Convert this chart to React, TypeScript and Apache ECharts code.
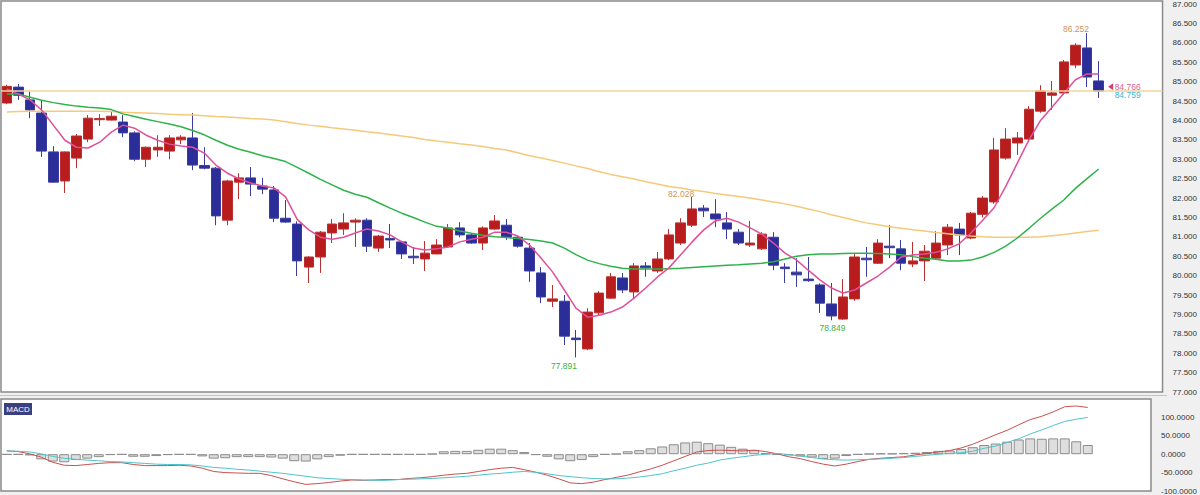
import { useEffect, useRef } from "react";
import * as echarts from "echarts";

// [open, close, low, high]
const candles: number[][] = [
  [84.45, 84.88, 84.42, 84.92], [84.86, 84.65, 84.53, 84.94], [84.53, 84.27, 84.06, 84.76], [84.19, 83.21, 83.06, 84.53],
  [83.19, 82.41, 82.40, 83.34], [82.44, 83.19, 82.13, 83.20], [83.03, 83.60, 82.77, 83.65], [83.52, 84.06, 83.44, 84.14],
  [84.02, 84.05, 83.86, 84.16], [84.01, 84.11, 84.00, 84.22], [83.96, 83.68, 83.57, 84.14], [83.68, 83.00, 82.95, 83.72],
  [83.00, 83.31, 82.80, 83.33], [83.24, 83.31, 83.06, 83.62], [83.21, 83.55, 83.00, 83.62], [83.50, 83.57, 83.39, 83.62],
  [83.55, 82.85, 82.72, 84.19], [82.84, 82.77, 82.74, 83.31], [82.77, 81.54, 81.30, 82.80], [81.43, 82.44, 81.30, 82.47],
  [82.41, 82.52, 81.97, 82.64], [82.52, 82.36, 82.05, 82.80], [82.31, 82.23, 82.10, 82.52], [82.21, 81.48, 81.38, 82.31],
  [81.48, 81.38, 81.36, 81.95], [81.33, 80.38, 79.99, 81.40], [80.22, 80.48, 79.81, 80.50], [80.48, 81.12, 80.07, 81.15],
  [81.10, 81.33, 80.84, 81.46], [81.20, 81.36, 81.05, 81.61], [81.38, 81.43, 80.74, 81.48], [81.43, 80.76, 80.61, 81.48],
  [80.71, 81.02, 80.61, 81.05], [80.96, 80.92, 80.71, 81.33], [80.87, 80.56, 80.43, 80.90], [80.50, 80.46, 80.30, 80.74],
  [80.43, 80.58, 80.12, 80.89], [80.56, 80.79, 80.55, 80.94], [80.74, 81.23, 80.72, 81.33], [81.23, 81.05, 80.99, 81.38],
  [81.05, 80.84, 80.82, 81.08], [80.84, 81.23, 80.66, 81.27], [81.20, 81.41, 81.18, 81.56], [81.30, 80.99, 80.92, 81.46],
  [80.99, 80.76, 80.72, 81.00], [80.71, 80.12, 79.84, 80.84], [80.07, 79.45, 79.29, 80.22], [79.34, 79.40, 79.19, 79.76],
  [79.34, 78.44, 78.21, 79.50], [78.39, 78.35, 77.891, 78.60], [78.11, 79.06, 78.08, 79.16], [79.04, 79.55, 78.98, 79.60],
  [79.42, 79.97, 79.40, 80.07], [79.94, 79.63, 79.55, 80.07], [79.58, 80.25, 79.40, 80.32], [80.25, 80.20, 79.97, 80.35],
  [80.12, 80.43, 80.07, 80.61], [80.43, 81.05, 80.40, 81.20], [80.84, 81.36, 80.79, 81.48], [81.30, 81.72, 81.25, 82.028],
  [81.74, 81.67, 81.51, 81.82], [81.59, 81.46, 81.25, 81.97], [81.36, 81.20, 80.94, 81.64], [81.12, 80.84, 80.79, 81.20],
  [80.79, 80.84, 80.74, 81.41], [80.69, 81.07, 80.66, 81.12], [80.99, 80.27, 80.14, 81.12], [80.22, 80.18, 79.81, 80.32],
  [80.09, 80.02, 79.71, 80.45], [79.91, 79.87, 79.84, 80.48], [79.76, 79.29, 79.04, 79.80], [79.27, 78.96, 78.849, 79.81],
  [78.88, 79.45, 78.86, 79.91], [79.40, 80.48, 79.35, 80.58], [80.45, 80.41, 79.97, 80.74], [80.32, 80.84, 80.30, 80.94],
  [80.76, 80.72, 80.45, 81.30], [80.69, 80.32, 80.14, 80.92], [80.30, 80.38, 80.22, 80.87], [80.38, 80.63, 79.86, 80.79],
  [80.45, 80.84, 80.43, 81.15], [80.79, 81.25, 80.53, 81.33], [81.20, 81.05, 80.53, 81.36], [80.97, 81.61, 80.94, 81.64],
  [81.58, 82.00, 81.50, 82.05], [81.90, 83.24, 81.85, 83.55], [83.03, 83.52, 82.99, 83.80], [83.42, 83.55, 83.11, 83.70],
  [83.52, 84.29, 83.44, 84.37], [84.24, 84.76, 84.20, 84.91], [84.65, 84.71, 84.27, 85.02], [84.71, 85.51, 84.66, 85.56],
  [85.43, 85.94, 85.35, 85.99], [85.87, 85.12, 84.86, 86.252], [85.02, 84.759, 84.58, 85.53],
];

const maFast = [
  84.81, 84.68, 84.53, 84.27, 83.88, 83.49, 83.31, 83.29, 83.44, 83.70,
  83.88, 83.80, 83.62, 83.49, 83.39, 83.34, 83.31, 83.16, 82.85, 82.64,
  82.49, 82.39, 82.31, 82.26, 82.03, 81.45, 81.18, 80.99, 80.94, 80.99,
  81.10, 81.20, 81.15, 81.05, 80.87, 80.71, 80.66, 80.69, 80.74, 80.87,
  80.94, 80.99, 81.12, 81.12, 81.02, 80.79, 80.45, 80.09, 79.63, 79.16,
  78.93, 78.98, 79.06, 79.19, 79.42, 79.68, 79.96, 80.20, 80.53, 80.87,
  81.18, 81.41, 81.48, 81.38, 81.23, 81.07, 80.84, 80.58, 80.40, 80.14,
  79.89, 79.68, 79.55, 79.63, 79.81, 79.99, 80.22, 80.48, 80.53, 80.56,
  80.60, 80.69, 80.82, 81.10, 81.42, 81.75, 82.30, 82.90, 83.50, 84.00,
  84.35, 84.70, 85.05, 85.20, 85.20,
];

const maMid = [
  84.68, 84.68, 84.60, 84.52, 84.46, 84.41, 84.37, 84.34, 84.32, 84.28,
  84.17, 84.10, 84.03, 83.97, 83.91, 83.84, 83.74, 83.63, 83.49, 83.36,
  83.26, 83.18, 83.09, 83.02, 82.94, 82.79, 82.64, 82.48, 82.34, 82.20,
  82.10, 82.02, 81.88, 81.74, 81.61, 81.50, 81.38, 81.27, 81.23, 81.15,
  81.09, 81.04, 81.00, 80.98, 80.96, 80.93, 80.89, 80.84, 80.71, 80.54,
  80.40, 80.31, 80.24, 80.19, 80.17, 80.17, 80.17, 80.18, 80.19, 80.21,
  80.23, 80.25, 80.27, 80.28, 80.30, 80.32, 80.36, 80.43, 80.50, 80.54,
  80.56, 80.56, 80.57, 80.58, 80.58, 80.57, 80.56, 80.54, 80.49, 80.45,
  80.42, 80.38, 80.38, 80.40, 80.48, 80.60, 80.76, 80.97, 81.22, 81.48,
  81.72, 81.95, 82.25, 82.50, 82.75,
];

const maSlow = [
  84.22, 84.23, 84.24, 84.24, 84.24, 84.24, 84.24, 84.24, 84.24, 84.23,
  84.21, 84.20, 84.19, 84.18, 84.16, 84.15, 84.14, 84.12, 84.10, 84.09,
  84.07, 84.05, 84.04, 84.01, 83.97, 83.92, 83.88, 83.85, 83.81, 83.78,
  83.75, 83.71, 83.68, 83.64, 83.60, 83.56, 83.51, 83.47, 83.44, 83.40,
  83.37, 83.33, 83.28, 83.24, 83.17, 83.09, 83.03, 82.97, 82.90, 82.83,
  82.76, 82.68, 82.61, 82.55, 82.49, 82.42, 82.36, 82.30, 82.26, 82.21,
  82.17, 82.12, 82.08, 82.04, 82.00, 81.95, 81.90, 81.85, 81.79, 81.72,
  81.65, 81.57, 81.50, 81.43, 81.36, 81.31, 81.26, 81.22, 81.18, 81.15,
  81.11, 81.08, 81.05, 81.02, 81.00, 80.99, 80.99, 80.99, 80.99, 81.00,
  81.03, 81.06, 81.10, 81.14, 81.17,
];

const macdHist = [
  -1, -1, -3, -14, -20, -22, -16, -12, -8, -2,
  -1, -7, -7, -5, -2, -1, -1, -6, -12, -11,
  -8, -8, -8, -9, -12, -19, -20, -14, -8, -4,
  -1, -1, -1, -1, -1, -1, -1, 1, 8, 9,
  9, 12, 15, 15, 11, 6, -2, -7, -14, -19,
  -16, -8, -1, 1, 8, 11, 16, 21, 27, 32,
  34, 30, 26, 20, 15, 11, 3, -1, -3, -6,
  -9, -13, -12, -5, -1, 1, 2, 2, 3, 4,
  6, 9, 10, 14, 19, 25, 29, 34, 40, 43,
  42, 43, 43, 35, 25,
];

const macdLine = [
  9, 7, 1, -8, -22, -30, -31, -28, -25, -23,
  -23, -28, -31, -31, -31, -30, -32, -38, -47, -50,
  -51, -52, -52, -58, -67, -75, -82, -80, -77, -73,
  -70, -71, -70, -69, -69, -66, -64, -61, -57, -54,
  -52, -47, -42, -38, -36, -42, -49, -57, -67, -78,
  -80, -76, -69, -63, -57, -48, -40, -30, -18, -6,
  6, 10, 11, 10, 9, 11, 7, 1, -7, -12,
  -20, -27, -32, -27, -20, -14, -11, -9, -7, -2,
  2, 6, 10, 17, 27, 40, 53, 65, 80, 94,
  103, 115, 129, 131, 127,
];

const signalLine = [
  9, 8, 6, 1, -6, -11, -14, -16, -18, -20,
  -21, -23, -25, -27, -28, -28, -29, -32, -36, -38,
  -41, -43, -46, -49, -52, -56, -60, -64, -66, -68,
  -69, -70, -71, -71, -69, -68, -67, -66, -64, -62,
  -60, -57, -54, -52, -49, -47, -49, -53, -58, -61,
  -64, -66, -67, -67, -65, -62, -58, -53, -45, -38,
  -30, -24, -16, -11, -7, -3, 0, 2, -1, -5,
  -9, -13, -15, -16, -15, -14, -13, -11, -9, -6,
  -3, 0, 2, 4, 8, 16, 22, 32, 42, 55,
  66, 78, 89, 95, 100,
];

const slotCount = 100;
const categories = Array.from({ length: slotCount }, (_, i) => String(i + 1));

const lastPrice = 84.759;
const bidPrice = 84.766;
const highMark = { idx: 93, value: 86.252 };
const midHighMark = { idx: 59, value: 82.028 };
const lowMark = { idx: 49, value: 77.891 };
const secondLowMark = { idx: 71, value: 78.849 };

const FONT = "'Liberation Sans', Arial, sans-serif";

function textMark(idx: number, value: number, color: string, offset: number[]) {
  return {
    coord: [categories[idx], value],
    symbol: "circle",
    symbolSize: 1,
    itemStyle: { color: "rgba(0,0,0,0)" },
    label: {
      show: true,
      position: "inside",
      formatter: value.toFixed(3),
      color,
      fontSize: 8.5,
      fontFamily: FONT,
      offset,
    },
  };
}

export default function App() {
  const ref = useRef<HTMLDivElement>(null);
  useEffect(() => {
    const chart = echarts.init(ref.current!, null, { renderer: "svg" });
    const axisCommon = {
      type: "value",
      position: "right",
      splitLine: { show: false },
      axisLine: { show: false },
      axisTick: { show: false },
    };
    chart.setOption({
      animation: false,
      backgroundColor: "#f0f0f0",
      textStyle: { fontFamily: FONT },
      grid: [
        { left: 1, width: 1166, top: 1, height: 391, show: true, backgroundColor: "#ffffff", borderColor: "#8a8a8a", borderWidth: 1.5 },
        { left: 1, width: 1166, top: 399, height: 94, show: true, backgroundColor: "#ffffff", borderColor: "#8a8a8a", borderWidth: 1.5 },
      ],
      xAxis: [
        { type: "category", gridIndex: 0, data: categories, show: false, boundaryGap: true },
        { type: "category", gridIndex: 1, data: categories, show: false, boundaryGap: true },
      ],
      yAxis: [
        {
          ...axisCommon,
          gridIndex: 0,
          min: 77,
          max: 87.08,
          interval: 0.5,
          axisLabel: { showMaxLabel: false, formatter: (v: number) => v.toFixed(3), fontSize: 8, color: "#333", margin: 10 },
        },
        {
          ...axisCommon,
          gridIndex: 1,
          min: -100,
          max: 150,
          interval: 50,
          axisLabel: { showMaxLabel: false, formatter: (v: number) => v.toFixed(4), fontSize: 8, color: "#333", margin: 10 },
        },
      ],
      series: [
        {
          type: "candlestick",
          xAxisIndex: 0,
          yAxisIndex: 0,
          data: candles,
          barWidth: 10,
          silent: true,
          itemStyle: {
            color: "#b81c1c",
            color0: "#2b2e98",
            borderColor: "#b83030",
            borderColor0: "#3a3d9e",
            borderWidth: 1,
          },
          markLine: {
            silent: true,
            symbol: ["none", "none"],
            label: { show: false },
            lineStyle: { color: "#f1d59d", width: 1.5, type: "solid" },
            data: [{ yAxis: lastPrice }],
          },
          markPoint: {
            silent: true,
            data: [
              textMark(highMark.idx, highMark.value, "#c8955a", [-11, -4]),
              textMark(midHighMark.idx, midHighMark.value, "#c8955a", [-11, -3]),
              textMark(lowMark.idx, lowMark.value, "#3cb043", [-12, 9]),
              textMark(secondLowMark.idx, secondLowMark.value, "#3cb043", [1, 8]),
              textMark(candles.length - 1, bidPrice, "#e0608f", [29, -4]),
              textMark(candles.length - 1, lastPrice, "#3db6d6", [29, 4]),
              {
                coord: [categories[candles.length - 1], bidPrice],
                symbol: "path://M0,5L8,0L8,10Z",
                symbolSize: [5, 7],
                symbolOffset: [12, -4],
                itemStyle: { color: "#d2416e" },
                label: { show: false },
              },
            ],
          },
        },
        {
          type: "line", xAxisIndex: 0, yAxisIndex: 0, data: maSlow, symbol: "none", silent: true,
          lineStyle: { color: "#f5c97a", width: 1.5 },
        },
        {
          type: "line", xAxisIndex: 0, yAxisIndex: 0, data: maMid, symbol: "none", silent: true,
          lineStyle: { color: "#2db34a", width: 1.5 },
        },
        {
          type: "line", xAxisIndex: 0, yAxisIndex: 0, data: maFast, symbol: "none", silent: true,
          lineStyle: { color: "#e0509a", width: 1.5 },
        },
        {
          type: "bar", xAxisIndex: 1, yAxisIndex: 1, data: macdHist, barWidth: 10, silent: true,
          itemStyle: { color: "#dedede", borderColor: "#8c8c8c", borderWidth: 1 },
        },
        {
          type: "line", xAxisIndex: 1, yAxisIndex: 1, data: macdLine, symbol: "none", silent: true,
          lineStyle: { color: "#c8504f", width: 1 },
        },
        {
          type: "line", xAxisIndex: 1, yAxisIndex: 1, data: signalLine, symbol: "none", silent: true,
          lineStyle: { color: "#4fc3cc", width: 1 },
        },
      ],
      graphic: [
        { type: "line", shape: { x1: 0, y1: 395.5, x2: 1167, y2: 395.5 }, style: { stroke: "#c4c4c4", lineWidth: 1 } },
        { type: "rect", shape: { x: 4, y: 403, width: 28, height: 12 }, style: { fill: "#3c3f7e" } },
        {
          type: "text",
          style: { x: 18, y: 409, text: "MACD", fill: "#ffffff", fontSize: 8, fontFamily: FONT, align: "center", verticalAlign: "middle" },
        },
      ],
    });
    return () => chart.dispose();
  }, []);
  return <div ref={ref} style={{ position: "fixed", left: 0, top: 0, width: 1200, height: 495 }} />;
}
